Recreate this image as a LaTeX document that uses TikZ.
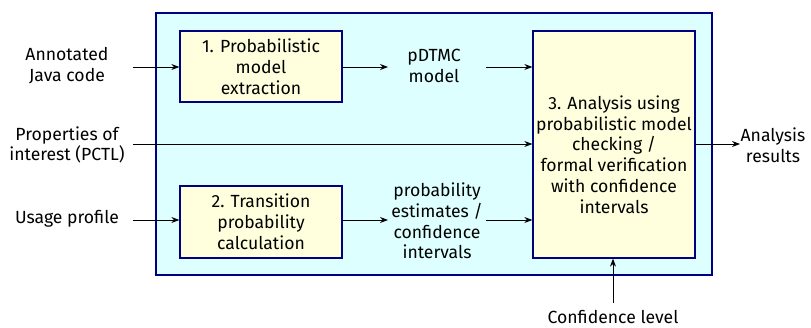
\documentclass[tikz,border=0pt]{standalone}
\usepackage{fontspec}
\setmainfont{Fira Sans}
\usetikzlibrary{arrows.meta}
\definecolor{outerfill}{HTML}{DDFFFF}
\definecolor{innerfill}{HTML}{FFFFDD}
\definecolor{boxline}{HTML}{000080}
\begin{document}
\begin{tikzpicture}[x=1bp,y=-1bp,
  lbl/.style={align=center,font=\fontsize{17.6bp}{20.8bp}\selectfont,inner sep=0pt},
  proc/.style={draw=boxline,fill=innerfill,line width=1.3bp,align=center,font=\fontsize{17.6bp}{20.8bp}\selectfont,inner sep=0pt},
  arr/.style={-{Stealth[length=8bp,width=6bp]},line width=0.9bp}]
\useasboundingbox (0,0) rectangle (811,327);
\draw[draw=boxline,fill=outerfill,line width=1.8bp] (156,13) rectangle (712,275);
\node[proc,minimum width=162bp,minimum height=71bp] (b1) at (261,66.5) {1. Probabilistic\\model\\extraction};
\node[proc,minimum width=162bp,minimum height=72bp] (b2) at (261,222) {2. Transition\\probability\\calculation};
\node[proc,minimum width=162bp,minimum height=227bp] (b3) at (614,144.5) {};
\node[lbl] (b3t) at (614,154.5) {3. Analysis using\\probabilistic model\\checking /\\formal verification\\with confidence\\intervals};
\node[lbl] (ajc) at (67,66) {Annotated\\Java code};
\node[lbl] (prop) at (67,145) {Properties of\\interest (PCTL)};
\node[lbl] (usage) at (67,219) {Usage profile};
\node[lbl] (pdtmc) at (434,66) {pDTMC\\model};
\node[lbl] (prob) at (437,221) {probability\\estimates /\\confidence\\intervals};
\node[lbl] (res) at (773,145) {Analysis\\results};
\node[lbl,anchor=base] (conf) at (613,323) {Confidence level};
\coordinate (ajcE) at (133,67);
\coordinate (propE) at (133,144);
\coordinate (usageE) at (133,220);
\coordinate (confN) at (613,303);
\draw[arr] (ajcE) -- (b1.west |- ajcE);
\draw[arr] (b1.east |- ajcE) -- (388,67) coordinate (pdW);
\draw[arr] (486,67) -- (b3.west |- ajcE);
\draw[arr] (propE) -- (b3.west |- propE);
\draw[arr] (b3.east |- propE) -- (740,144);
\draw[arr] (usageE) -- (b2.west |- usageE);
\draw[arr] (b2.east |- usageE) -- (388,220);
\draw[arr] (486,220) -- (b3.west |- usageE);
\draw[arr] (confN) -- (b3.south -| confN);
\end{tikzpicture}
\end{document}
